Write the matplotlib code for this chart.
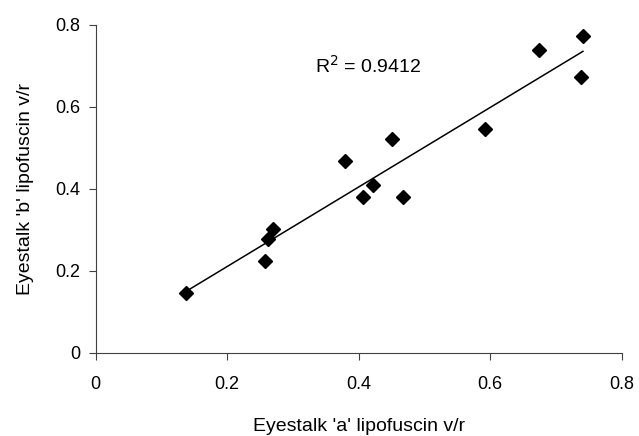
import numpy as np
import matplotlib.pyplot as plt

plt.rcParams['font.family'] = ['Liberation Sans', 'DejaVu Sans']

# eyestalk lipofuscin volume ratios
eye_a = [0.137, 0.258, 0.262, 0.270, 0.380, 0.407, 0.422, 0.450, 0.468,
         0.592, 0.674, 0.738, 0.741]
eye_b = [0.145, 0.224, 0.278, 0.302, 0.468, 0.380, 0.409, 0.522, 0.380,
         0.546, 0.738, 0.673, 0.772]
r2_text = 'R$^2$ = 0.9412'
ticks = [0, 0.2, 0.4, 0.6, 0.8]

x = np.array(eye_a)
y = np.array(eye_b)

fig = plt.figure(figsize=(6.39, 4.36), dpi=100)
ax = fig.add_axes([0.1495, 0.1915, 0.9730 - 0.1495, 0.9427 - 0.1915])

ax.plot(x, y, 'D', color='black', markersize=7, zorder=3)

# linear trendline over the data range
m, c = np.polyfit(x, y, 1)
xl = np.array([x.min(), x.max()])
ax.plot(xl, m * xl + c, 'k-', linewidth=1.1)

ax.text(0.334, 0.683, r2_text, fontsize=14)

ax.set_xlim(0, 0.8)
ax.set_ylim(0, 0.8)
ax.set_xticks(ticks)
ax.set_yticks(ticks)
ax.set_xticklabels(['0', '0.2', '0.4', '0.6', '0.8'])
ax.set_yticklabels(['0', '0.2', '0.4', '0.6', '0.8'])
ax.tick_params(direction='out', length=5, width=0.8, color='#404040',
               labelsize=13, pad=12)
ax.tick_params(axis='y', pad=6)

for side in ['top', 'right']:
    ax.spines[side].set_visible(False)
for side in ['left', 'bottom']:
    ax.spines[side].set_color('#404040')
    ax.spines[side].set_linewidth(0.8)

ax.set_xlabel("Eyestalk 'a' lipofuscin v/r", fontsize=14, labelpad=18)
ax.set_ylabel("Eyestalk 'b' lipofuscin v/r", fontsize=14, labelpad=15)

fig.savefig('out.png', dpi=100)
